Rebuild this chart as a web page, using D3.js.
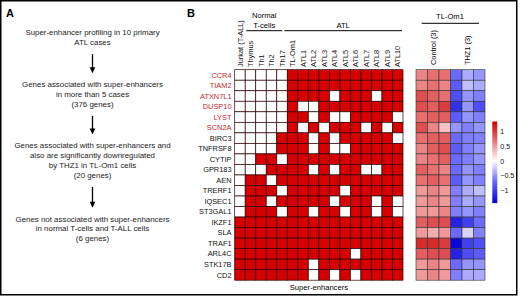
<!DOCTYPE html>
<html lang="en">
<head>
    <meta charset="UTF-8">
    <title>Super-enhancer genes in ATL</title>
    <script src="https://d3js.org/d3.v7.min.js"></script>
    <style>
        body, html {
            margin: 0;
            padding: 0;
            background: #fff;
            font-family: 'Liberation Sans', Arial, sans-serif;
        }
        svg text {
            font-family: 'Liberation Sans', Arial, sans-serif;
        }
    </style>
</head>
<body>
<svg id="chart" width="520" height="297"></svg>

<script>
    // ---- data ----
    const flowSteps = [
        ['Super-enhancer profiling in 10 primary', 'ATL cases'],
        ['Genes associated with super-enhancers', 'in more than 5 cases', '(376 genes)'],
        ['Genes associated with super-enhancers and', 'also are significantly downregulated', 'by THZ1 in TL-Om1 cells', '(20 genes)'],
        ['Genes not associated with super-enhancers', 'in normal T-cells and T-ALL cells', '(6 genes)']
    ];

    const samples = ['Jurkat (T-ALL)', 'Thymus', 'Th1', 'Th2', 'Th17', 'TL-Om1',
        'ATL1', 'ATL2', 'ATL3', 'ATL4', 'ATL5', 'ATL6', 'ATL7', 'ATL8', 'ATL9', 'ATL10'];

    const genes = ['CCR4', 'TIAM2', 'ATXN7L1', 'DUSP10', 'LYST', 'SCN2A', 'BIRC3', 'TNFRSF8',
        'CYTIP', 'GPR183', 'AEN', 'TRERF1', 'IQSEC1', 'ST3GAL1', 'IKZF1', 'SLA', 'TRAF1',
        'ARL4C', 'STK17B', 'CD2'];
    const highlighted = ['CCR4', 'TIAM2', 'ATXN7L1', 'DUSP10', 'LYST', 'SCN2A'];

    // 1 = super-enhancer present (red), 0 = absent (white); one row per gene
    const superEnh = [
        [0,0,0,0,0,1,1,1,1,1,1,1,1,1,1,1],
        [0,0,0,0,0,1,1,1,1,1,1,1,1,1,1,1],
        [0,0,0,0,0,1,1,1,1,0,1,1,1,0,1,1],
        [0,0,0,0,0,1,0,0,1,1,1,1,1,1,1,1],
        [0,0,0,0,0,1,1,0,1,0,0,1,1,1,1,0],
        [0,0,0,0,0,1,0,1,0,1,1,1,0,1,0,1],
        [0,0,0,0,1,1,1,0,1,0,1,1,1,1,1,0],
        [0,0,0,0,1,1,1,0,1,0,0,1,1,1,1,1],
        [0,0,1,1,0,1,1,1,1,1,1,1,1,1,1,1],
        [0,0,0,1,1,1,1,0,1,0,1,1,0,0,1,1],
        [0,1,1,0,1,1,1,1,1,1,1,1,1,1,1,1],
        [0,1,1,1,0,1,1,1,1,1,0,1,1,1,1,1],
        [0,1,1,0,1,1,1,1,1,0,1,1,1,0,1,0],
        [0,1,1,1,0,1,1,0,1,1,0,1,1,0,1,0],
        [1,1,1,1,1,1,1,1,1,1,1,1,1,1,1,1],
        [1,1,1,1,1,1,1,1,1,1,1,1,1,1,1,1],
        [1,1,1,1,1,1,1,1,1,1,1,1,1,1,1,1],
        [1,1,1,1,1,1,1,1,1,1,1,0,1,1,1,1],
        [1,1,1,1,1,1,1,0,1,1,1,1,1,1,1,1],
        [1,1,1,1,1,1,1,0,1,0,1,0,1,1,1,1]
    ];

    const exprSamples = ['C1', 'C2', 'C3', 'T1', 'T2', 'T3'];
    // row z-scores, TL-Om1 control (3 replicates)
    const controlZ = [
        [0.6, 0.7, 0.7], [0.6, 0.7, 0.6], [0.9, 0.8, 0.7], [0.9, 0.8, 1.0], [0.7, 0.8, 0.8],
        [0.9, 0.6, 0.3], [0.7, 0.8, 0.8], [0.6, 0.8, 0.9], [0.6, 0.7, 0.8], [0.8, 0.7, 0.6],
        [0.7, 0.8, 0.7], [0.5, 0.6, 0.5], [0.5, 0.6, 0.5], [0.5, 0.5, 0.6], [0.8, 0.9, 0.9],
        [0.5, 0.4, 0.5], [1.1, 1.1, 1.0], [0.8, 0.9, 0.9], [0.5, 0.6, 0.5], [0.5, 0.6, 0.5]
    ];
    // row z-scores, TL-Om1 + THZ1 (3 replicates)
    const thz1Z = [
        [-0.7, -0.4, -0.5], [-0.8, -0.3, -0.4], [-0.9, -0.5, -0.6], [-1.1, -0.5, -0.9], [-0.8, -0.5, -0.6],
        [-0.5, -0.6, -0.5], [-0.7, -0.6, -0.6], [-0.8, -0.6, -0.5], [-0.7, -0.6, -0.5], [-0.7, -0.5, -0.6],
        [-0.8, -0.5, -0.6], [-0.6, -0.4, -0.3], [-0.6, -0.4, -0.5], [-0.6, -0.5, -0.6], [-1.2, -1.0, -0.7],
        [-0.7, -0.2, -0.6], [-1.4, -1.0, -0.9], [-1.2, -0.9, -0.8], [-0.7, -0.5, -0.5], [-0.6, -0.4, -0.4]
    ];
    const colorTicks = [1, 0.5, 0, -0.5, -1];

    // ---- drawing ----
    const svg = d3.select('#chart');
    const font = "'Liberation Sans', Arial, sans-serif";

    // outer frame
    svg.append('rect')
        .attr('x', 0.75).attr('y', 0.75)
        .attr('width', 516).attr('height', 294)
        .attr('fill', 'none').attr('stroke', '#000').attr('stroke-width', 1.5);

    // panel letters
    svg.append('text').attr('x', 6).attr('y', 17).text('A')
        .style('font-size', '11px').style('font-weight', 'bold');
    svg.append('text').attr('x', 187).attr('y', 17).text('B')
        .style('font-size', '11px').style('font-weight', 'bold');

    // ---- panel A: flow chart ----
    const flowX = 92.5;
    const stepTops = [32.3, 84.3, 145.5, 218.8];
    const lineGap = 9.8;
    flowSteps.forEach((lines, i) => {
        lines.forEach((ln, j) => {
            svg.append('text')
                .attr('x', flowX)
                .attr('y', stepTops[i] + j * lineGap)
                .attr('dy', '0.35em')
                .attr('text-anchor', 'middle')
                .style('font-size', '7.9px')
                .style('fill', '#222')
                .text(ln);
        });
        if (i < flowSteps.length - 1) {
            const y0 = stepTops[i] + (lines.length - 1) * lineGap + 12;
            const y1 = stepTops[i + 1] - 11;
            svg.append('line')
                .attr('x1', flowX).attr('x2', flowX)
                .attr('y1', y0).attr('y2', y1 - 5)
                .attr('stroke', '#000').attr('stroke-width', 1.3);
            svg.append('path')
                .attr('d', `M${flowX - 2.8},${y1 - 6} L${flowX + 2.8},${y1 - 6} L${flowX},${y1} Z`)
                .attr('fill', '#000');
        }
    });

    // ---- panel B: super-enhancer grid ----
    const x = d3.scaleBand().domain(samples).range([234.7, 403]);
    const y = d3.scaleBand().domain(genes).range([69.7, 280.2]);

    const cells = [];
    genes.forEach((g, i) => samples.forEach((s, j) => cells.push({ g, s, v: superEnh[i][j] })));

    svg.append('g').selectAll('rect')
        .data(cells)
        .join('rect')
        .attr('x', d => x(d.s))
        .attr('y', d => y(d.g))
        .attr('width', x.bandwidth())
        .attr('height', y.bandwidth())
        .attr('fill', d => d.v ? '#d60000' : '#fff')
        .attr('stroke', '#2a0000')
        .attr('stroke-width', 0.7);

    // row labels
    svg.append('g').selectAll('text')
        .data(genes)
        .join('text')
        .attr('x', 231.5)
        .attr('y', d => y(d) + y.bandwidth() / 2)
        .attr('dy', '0.35em')
        .attr('text-anchor', 'end')
        .style('font-size', '7.4px')
        .style('fill', d => highlighted.includes(d) ? '#c1272d' : '#111')
        .text(d => d);

    // column labels (rotated)
    svg.append('g').selectAll('text')
        .data(samples)
        .join('text')
        .attr('transform', d => `translate(${x(d) + x.bandwidth() / 2},67) rotate(-90)`)
        .attr('dy', '0.35em')
        .attr('text-anchor', 'start')
        .style('font-size', '7.4px')
        .style('fill', '#111')
        .text(d => d);

    // group headers
    const groupLine = (x1, x2, yy) => svg.append('line')
        .attr('x1', x1).attr('x2', x2).attr('y1', yy).attr('y2', yy)
        .attr('stroke', '#000').attr('stroke-width', 1);
    const normalX0 = x('Thymus') + 1, normalX1 = x('Th17') + x.bandwidth() - 5;
    groupLine(normalX0, normalX1, 30.7);
    svg.append('text').attr('x', (normalX0 + normalX1) / 2).attr('y', 15).attr('dy', '0.35em')
        .attr('text-anchor', 'middle').style('font-size', '7.6px').text('Normal');
    svg.append('text').attr('x', (normalX0 + normalX1) / 2).attr('y', 25).attr('dy', '0.35em')
        .attr('text-anchor', 'middle').style('font-size', '7.6px').text('T-cells');
    const atlX0 = x('TL-Om1') - 3, atlX1 = x('ATL10') + x.bandwidth() - 1;
    groupLine(atlX0, atlX1, 30.7);
    svg.append('text').attr('x', (atlX0 + atlX1) / 2).attr('y', 25).attr('dy', '0.35em')
        .attr('text-anchor', 'middle').style('font-size', '7.6px').text('ATL');

    svg.append('text')
        .attr('x', (x.range()[0] + x.range()[1]) / 2)
        .attr('y', 287.5).attr('dy', '0.35em')
        .attr('text-anchor', 'middle')
        .style('font-size', '7.6px')
        .text('Super-enhancers');

    // ---- expression heatmap ----
    const hx = d3.scaleBand().domain(exprSamples).range([416, 485]);
    const color = d3.scaleLinear()
        .domain([-1.45, -0.7, 0, 0.7, 1.35])
        .range(['#0000d8', '#6a6aff', '#ffffff', '#e87070', '#c80000'])
        .clamp(true);

    const hcells = [];
    genes.forEach((g, i) => {
        controlZ[i].forEach((v, k) => hcells.push({ g, s: exprSamples[k], v }));
        thz1Z[i].forEach((v, k) => hcells.push({ g, s: exprSamples[k + 3], v }));
    });

    svg.append('g').selectAll('rect')
        .data(hcells)
        .join('rect')
        .attr('x', d => hx(d.s))
        .attr('y', d => y(d.g))
        .attr('width', hx.bandwidth())
        .attr('height', y.bandwidth())
        .attr('fill', d => color(d.v))
        .attr('stroke', '#333')
        .attr('stroke-width', 0.6);

    const ctrlMid = (hx('C1') + hx('C3') + hx.bandwidth()) / 2;
    const thzMid = (hx('T1') + hx('T3') + hx.bandwidth()) / 2;
    [['Control (3)', ctrlMid], ['THZ1 (3)', thzMid]].forEach(([t, cx]) => {
        svg.append('text')
            .attr('transform', `translate(${cx},65) rotate(-90)`)
            .attr('dy', '0.35em')
            .style('font-size', '7.4px')
            .text(t);
    });
    groupLine(421.7, 479, 23.3);
    svg.append('text').attr('x', 450).attr('y', 16.5).attr('dy', '0.35em')
        .attr('text-anchor', 'middle').style('font-size', '7.6px').text('TL-Om1');

    // ---- colour bar ----
    const cb = d3.scaleLinear().domain([-1, 1]).range([190, 131.7]);
    const cbTop = cb(1.35), cbBot = cb(-1.45);
    const grad = svg.append('defs').append('linearGradient')
        .attr('id', 'cbgrad').attr('x1', 0).attr('x2', 0).attr('y1', 1).attr('y2', 0);
    color.domain().forEach(v => {
        grad.append('stop')
            .attr('offset', (v + 1.45) / (1.35 + 1.45))
            .attr('stop-color', color(v));
    });
    svg.append('rect')
        .attr('x', 492.3).attr('y', cbTop)
        .attr('width', 5).attr('height', cbBot - cbTop)
        .attr('fill', 'url(#cbgrad)');

    const cbAxis = svg.append('g')
        .attr('transform', 'translate(497.3,0)')
        .call(d3.axisRight(cb).tickValues(colorTicks).tickSize(0).tickPadding(3)
            .tickFormat(d => d < 0 ? '\u2212' + Math.abs(d) : d));
    cbAxis.select('.domain').remove();
    cbAxis.selectAll('text').style('font-size', '7px').style('font-family', font).attr('fill', '#111');
</script>
</body>
</html>
